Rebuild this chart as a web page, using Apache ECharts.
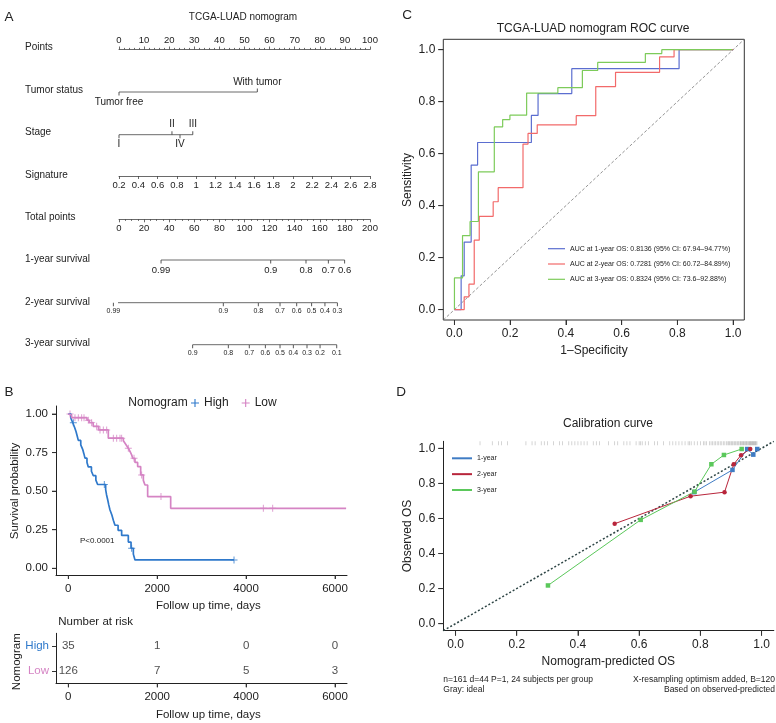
<!DOCTYPE html>
<html><head><meta charset="utf-8">
<script src="https://cdn.jsdelivr.net/npm/echarts@6/dist/echarts.min.js"></script>
<style>html,body{margin:0;padding:0;background:#fff}#c{width:776px;height:723px}</style>
</head><body><div id="c"></div>
<script>
// ================= DATA =================
// Panel A: nomogram
const nomoTitle = 'TCGA-LUAD nomogram';
const nomoRowLabels = ['Points','Tumor status','Stage','Signature','Total points','1-year survival','2-year survival','3-year survival'];
const pointsRange = [0, 100, 10];
const signatureRange = [0.2, 2.8, 0.2];
const totalPointsRange = [0, 200, 20];
const tumorStatusLabels = ['Tumor free','With tumor'];
const tumorStatusPoints = [0, 55.1];
const stageLabels = ['I','II','IV','III'];
const stagePoints = [0, 21.1, 24.3, 29.4];
const surv1Labels = ['0.99','0.9','0.8','0.7','0.6'];
const surv1Total = [33.5, 120.9, 149.0, 166.8, 179.8];
const surv2Labels = ['0.99','0.9','0.8','0.7','0.6','0.5','0.4','0.3'];
const surv2Total = [-4.5, 83.1, 111.0, 128.3, 141.6, 153.5, 164.1, 174.0];
const surv3Labels = ['0.9','0.8','0.7','0.6','0.5','0.4','0.3','0.2','0.1'];
const surv3Total = [58.7, 87.1, 103.8, 116.6, 128.3, 138.9, 149.8, 160.2, 173.5];

// Panel B: Kaplan-Meier
const kmGroups = ['High','Low'];
const highT = [0,60,100,140,173,200,225,280,323,350,375,420,450,520,563,620,660,840,860,886,910,938,980,1013,1050,1120,1200,1350,1411,1463,1500,3728];
const highS = [1.0,0.971,0.943,0.914,0.886,0.857,0.829,0.80,0.771,0.743,0.714,0.686,0.657,0.629,0.60,0.571,0.543,0.51,0.477,0.444,0.411,0.378,0.345,0.312,0.279,0.246,0.213,0.17,0.13,0.092,0.054,0.054];
const highCensor = [113, 810, 1425, 3728];
const lowT = [0,40,75,420,470,560,680,900,1238,1276,1313,1350,1388,1425,1450,1500,1560,1628,1688,1725,1785,2303,6250];
const lowS = [1.0,0.992,0.976,0.96,0.944,0.92,0.897,0.843,0.826,0.81,0.794,0.778,0.757,0.735,0.713,0.686,0.659,0.605,0.57,0.54,0.465,0.389,0.389];
const lowCensor = [38,150,225,300,353,450,525,638,713,788,863,1013,1088,1163,1200,1350,1478,1650,2085,4388,4598];
const kmXTickValues = [0, 2000, 4000, 6000];
const kmYTickValues = [0, 0.25, 0.5, 0.75, 1];
const kmXRange = [-277, 6270];
const kmYRange = [-0.0434, 1.0518];
const riskTimes = [0, 2000, 4000, 6000];
const riskHigh = [35, 1, 0, 0];
const riskLow = [126, 7, 5, 3];
const pValueText = 'P<0.0001';

// Panel C: ROC
const rocNames = ['AUC at 1-year OS: 0.8136 (95% CI: 67.94\u201394.77%)','AUC at 2-year OS: 0.7281 (95% CI: 60.72\u201384.89%)','AUC at 3-year OS: 0.8324 (95% CI: 73.6\u201392.88%)'];
const roc1Fpr = [0,0.024,0.035,0.06,0.083,0.276,0.30,0.421,0.806,1.0];
const roc1Tpr = [0,0.13,0.26,0.556,0.643,0.747,0.831,0.927,1.0,1.0];
const roc2Fpr = [0,0.035,0.052,0.071,0.089,0.139,0.157,0.246,0.264,0.297,0.437,0.507,0.578,0.736,0.788,1.0];
const roc2Tpr = [0,0.049,0.098,0.267,0.359,0.415,0.469,0.637,0.678,0.711,0.746,0.858,0.913,0.972,1.0,1.0];
const roc3Fpr = [0,0,0.029,0.056,0.086,0.143,0.173,0.199,0.259,0.371,0.459,0.514,0.685,0.744,0.997];
const roc3Tpr = [0,0.122,0.285,0.339,0.53,0.703,0.731,0.748,0.833,0.854,0.92,0.951,0.985,1.0,1.0];
const unitTickValues = [0, 0.2, 0.4, 0.6, 0.8, 1.0];
const unitRange = [-0.04, 1.04];

// Panel D: calibration
const calNames = ['1-year','2-year','3-year'];
const cal1Pred = [0.78,0.905,0.953,0.973,0.986];
const cal1Obs  = [0.75,0.877,0.996,0.964,0.996];
const cal2Pred = [0.52,0.768,0.879,0.909,0.933,0.963];
const cal2Obs  = [0.57,0.727,0.75,0.909,0.961,0.996];
const cal3Pred = [0.302,0.605,0.781,0.836,0.877,0.935];
const cal3Obs  = [0.218,0.592,0.753,0.909,0.962,0.996];
const rugPred = [0.08,0.12,0.14,0.15,0.17,0.23,0.25,0.26,0.28,0.29,0.30,0.32,0.34,0.35,0.37,0.38,0.39,0.40,0.41,0.42,0.43,0.45,0.46,0.47,0.50,0.52,0.53,0.55,0.56,0.57,0.59,0.60,0.605,0.61,0.62,0.63,0.65,0.66,0.68,0.70,0.71,0.72,0.73,0.74,0.75,0.76,0.765,0.77,0.78,0.79,0.80,0.81,0.815,0.82,0.83,0.835,0.84,0.845,0.85,0.855,0.86,0.865,0.87,0.875,0.88,0.885,0.89,0.893,0.896,0.90,0.903,0.906,0.91,0.913,0.916,0.92,0.923,0.926,0.93,0.932,0.935,0.938,0.94,0.942,0.945,0.948,0.95,0.952,0.955,0.957,0.96,0.962,0.964,0.966,0.968,0.97,0.972,0.974,0.976,0.978,0.98,0.982,0.985];
const calFootLeft = ['n=161 d=44 P=1, 24 subjects per group','Gray: ideal'];
const calFootRight = ['X-resampling optimism added, B=120','Based on observed-predicted'];

// ================= BUILD =================
const FONT = '"Liberation Sans", Arial, Helvetica, sans-serif';
const TXT = '#222';
const CLEAR = 'rgba(0,0,0,0)';
const grid = [], xAxis = [], yAxis = [], series = [], graphic = [], legend = [];
function addPanel(g, xa, ya) {
  grid.push(g); const gi = grid.length - 1;
  xa.gridIndex = gi; ya.gridIndex = gi;
  xa.axisLine = Object.assign({onZero:false}, xa.axisLine || {});
  ya.axisLine = Object.assign({onZero:false}, ya.axisLine || {});
  xAxis.push(xa); yAxis.push(ya); return gi;
}
function txt(text, x, y, size, opts) {
  opts = opts || {};
  graphic.push({type:'text', x, y, rotation: opts.rot || 0, silent:true,
    style:{text, fontSize:size, fontFamily:FONT, fill: opts.color || TXT,
      align: opts.align || 'center', verticalAlign:'middle'}});
}
const zip = (a, b) => a.map((v, i) => [v, b[i]]);
function stepAt(T, S, t) { let v = S[0]; for (let i = 0; i < T.length; i++) { if (T[i] <= t) v = S[i]; } return v; }
const plain = v => String(v);
function customAxis(pos, range, ticks, fmt, lineShow, tickLen, fontSize, margin) {
  return {type:'value', position:pos, min:range[0], max:range[1],
    axisLine:{show:lineShow, lineStyle:{color:'#222', width:1}},
    axisTick:{show:true, length:tickLen, customValues:ticks, lineStyle:{color:'#333', width:1}},
    minorTick:{show:false},
    axisLabel:{show:true, customValues:ticks, fontSize, color:TXT, margin, formatter:fmt},
    splitLine:{show:false}};
}
// outward tick marks drawn as thin rect symbols at the axis values (through the grid's scales)
function tickMarks(gi, dim, values, len, edge) {
  series.push({type:'scatter', xAxisIndex:gi, yAxisIndex:gi, clip:false, silent:true, z:10,
    symbol:'rect', symbolSize: dim === 'x' ? [1, len] : [len, 1],
    symbolOffset: dim === 'x' ? [0, len / 2] : [-len / 2, 0],
    itemStyle:{color:'#333'},
    data: values.map(v => dim === 'x' ? [v, edge] : [edge, v])});
}

// ---------- Panel A ----------
const NL = 119, NW = 251;
const rowY = [49.5, 92, 134.7, 176, 219.3, 260, 302.7, 344.7];
const rowLabelY = [47.7, 90, 132.7, 175, 217, 259.7, 302, 343.3];
const nomoLine = {color:'#444', width:0.8};
function nomoAxisRow(y, range, pos, fmt, minorSplit, fontSize) {
  addPanel({left:NL, width:NW, top: pos === 'top' ? y : y - 1, height:1},
    {type:'value', position:pos, min:range[0], max:range[1], interval:range[2],
     axisLine:{show:true, lineStyle:nomoLine}, axisTick:{show:true, length:3, lineStyle:nomoLine},
     minorTick:{show: !!minorSplit, splitNumber: minorSplit || 5, length:1.6, lineStyle:nomoLine},
     splitLine:{show:false}, minorSplitLine:{show:false},
     axisLabel:{fontSize, color:TXT, margin:4, formatter: fmt}},
    {type:'value', show:false, min:-1, max:1});
}
function nomoSeriesRow(y, min, max, xs, labels, positions, fontSize) {
  const gi = addPanel({left:NL, width:NW, top:y - 1, height:2},
    {type:'value', show:false, min, max}, {type:'value', show:false, min:-1, max:1});
  series.push({type:'line', xAxisIndex:gi, yAxisIndex:gi, clip:false, silent:true,
    symbol:'rect', symbolSize:[0.9, 3.5], showAllSymbol:true,
    itemStyle:{color:'#444'}, lineStyle:{color:'#444', width:0.8},
    label:{show:true, fontSize, color:TXT, distance:1.5, fontFamily:FONT, formatter: p => labels[p.dataIndex]},
    data: xs.map((x, k) => ({value:[x, 0], symbolOffset:[0, positions[k] === 'top' ? -1.75 : 1.75],
      label:{position: positions[k]}}))
  });
}
nomoAxisRow(rowY[0], pointsRange, 'top', plain, 5, 9.5);
nomoSeriesRow(rowY[1], 0, 100, tumorStatusPoints, tumorStatusLabels, ['bottom','top'], 10);
nomoSeriesRow(rowY[2], 0, 100, stagePoints, stageLabels, ['bottom','top','bottom','top'], 10);
nomoAxisRow(rowY[3], signatureRange, 'bottom', v => String(+(+v).toFixed(1)), 0, 9.5);
nomoAxisRow(rowY[4], totalPointsRange, 'bottom', plain, 4, 9.5);
nomoSeriesRow(rowY[5], 0, 200, surv1Total, surv1Labels, surv1Labels.map(() => 'bottom'), 9.5);
nomoSeriesRow(rowY[6], 0, 200, surv2Total, surv2Labels, surv2Labels.map(() => 'bottom'), 7);
nomoSeriesRow(rowY[7], 0, 200, surv3Total, surv3Labels, surv3Labels.map(() => 'bottom'), 7);
nomoRowLabels.forEach((l, i) => txt(l, 25, rowLabelY[i], 10, {align:'left'}));
txt(nomoTitle, 243, 17, 10);
txt('A', 9, 17, 13.5);

// ---------- Panel B ----------
const HIGH_C = '#2F79CB', LOW_C = '#D584C4';
const kmG = addPanel({left:56, top:406, width:291, height:169},
  customAxis('bottom', kmXRange, kmXTickValues, plain, true, 4, 11.5, 8),
  customAxis('left', kmYRange, kmYTickValues, v => (+v).toFixed(2), true, 4, 11.5, 8));
tickMarks(kmG, 'x', kmXTickValues, 4, kmYRange[0]);
tickMarks(kmG, 'y', kmYTickValues, 4, kmXRange[0]);
const plusPath = 'path://M-0.14,-1L0.14,-1L0.14,-0.14L1,-0.14L1,0.14L0.14,0.14L0.14,1L-0.14,1L-0.14,0.14L-1,0.14L-1,-0.14L-0.14,-0.14Z';
series.push({name:'High', type:'line', step:'end', xAxisIndex:kmG, yAxisIndex:kmG, clip:false, symbol:'none',
  lineStyle:{color:HIGH_C, width:1.7}, itemStyle:{color:HIGH_C}, data: zip(highT, highS)});
series.push({name:'Low', type:'line', step:'end', xAxisIndex:kmG, yAxisIndex:kmG, clip:false, symbol:'none',
  lineStyle:{color:LOW_C, width:1.7}, itemStyle:{color:LOW_C}, data: zip(lowT, lowS)});
series.push({name:'High', type:'scatter', xAxisIndex:kmG, yAxisIndex:kmG, clip:false, symbol:plusPath, symbolSize:7,
  itemStyle:{color:HIGH_C}, data: highCensor.map(t => [t, stepAt(highT, highS, t)])});
series.push({name:'Low', type:'scatter', xAxisIndex:kmG, yAxisIndex:kmG, clip:false, symbol:plusPath, symbolSize:7,
  itemStyle:{color:LOW_C}, data: lowCensor.map(t => [t, stepAt(lowT, lowS, t)])});
legend.push({data:kmGroups, left:191, top:396, padding:0, orient:'horizontal', icon:plusPath,
  itemWidth:8, itemHeight:8, itemGap:13, textStyle:{fontSize:12, color:TXT, fontFamily:FONT, lineHeight:14}});
txt('Nomogram', 158, 403, 12);
txt('Survival probability', 15, 491, 11.5, {rot:Math.PI/2});
txt('Follow up time, days', 208.3, 606, 11.5);
txt(pValueText, 80, 541, 8, {align:'left'});
txt('B', 9, 392, 13.5);
// risk table
const rtG = addPanel({left:56, top:633.3, width:291, height:50},
  customAxis('bottom', kmXRange, kmXTickValues, plain, true, 4, 11.5, 8),
  {type:'category', position:'left', data:['Low','High'], axisLine:{show:true, lineStyle:{color:'#222', width:1}},
   axisTick:{show:true, alignWithLabel:true, length:4, lineStyle:{color:'#333', width:1}},
   axisLabel:{fontSize:11.5, margin:7, color: (v) => v === 'High' ? HIGH_C : LOW_C}});
// helper strip sharing the risk table's x scale, for its x tick marks
const rtTickG = addPanel({left:56, top:683.3, width:291, height:1},
  {type:'value', show:false, min:kmXRange[0], max:kmXRange[1]}, {type:'value', show:false, min:0, max:1});
tickMarks(rtTickG, 'x', kmXTickValues, 4, 1);
[['High', riskHigh], ['Low', riskLow]].forEach(([g, arr]) => {
  series.push({type:'scatter', xAxisIndex:rtG, yAxisIndex:rtG, clip:false, symbolSize:1, silent:true,
    itemStyle:{color:CLEAR},
    label:{show:true, position:'inside', fontSize:11.5, color:TXT, fontFamily:FONT, formatter: p => String(arr[p.dataIndex])},
    data: riskTimes.map(t => [t, g])});
});
txt('Number at risk', 58.3, 621.7, 11.5, {align:'left'});
txt('Nomogram', 17, 661.7, 11.5, {rot:Math.PI/2});
txt('Follow up time, days', 208.3, 715, 11.5);

// ---------- Panel C ----------
const ROC_C = ['#5B6ED0', '#F26A6A', '#7DCB5A'];
const f1 = v => (+v).toFixed(1);
const rocG = addPanel({left:443.3, top:39.3, width:301, height:280.7, show:true, borderColor:'#333', borderWidth:1},
  customAxis('bottom', unitRange, unitTickValues, f1, false, 5, 12, 8),
  customAxis('left', unitRange, unitTickValues, f1, false, 5, 12, 8));
tickMarks(rocG, 'x', unitTickValues, 5, unitRange[0]);
tickMarks(rocG, 'y', unitTickValues, 5, unitRange[0]);
series.push({type:'line', xAxisIndex:rocG, yAxisIndex:rocG, clip:true, symbol:'none', silent:true,
  lineStyle:{color:'#777', width:0.8, type:[3,2]}, data:[[-0.04,-0.04],[1.04,1.04]]});
[[roc1Fpr, roc1Tpr], [roc2Fpr, roc2Tpr], [roc3Fpr, roc3Tpr]].forEach(([f, t], i) => {
  series.push({name:rocNames[i], type:'line', step:'end', xAxisIndex:rocG, yAxisIndex:rocG, clip:false, symbol:'none',
    lineStyle:{color:ROC_C[i], width:1.2}, itemStyle:{color:ROC_C[i]}, data: zip(f, t)});
});
legend.push({data:rocNames, left:548, top:244.7, padding:0, orient:'vertical', icon:'rect',
  itemWidth:17, itemHeight:1.2, itemGap:7.3, textStyle:{fontSize:7, color:TXT, fontFamily:FONT, lineHeight:8}});
txt('TCGA-LUAD nomogram ROC curve', 593, 29, 12);
txt('Sensitivity', 407.5, 180, 12, {rot:Math.PI/2});
txt('1\u2013Specificity', 594, 351, 12);
txt('C', 407, 15, 13.5);

// ---------- Panel D ----------
const CAL_C = ['#3F7CC4', '#B8253B', '#5BC85B'];
const calG = addPanel({left:443.3, top:441.3, width:330.5, height:189.4},
  customAxis('bottom', unitRange, unitTickValues, f1, true, 5, 12, 8),
  customAxis('left', unitRange, unitTickValues, f1, true, 5, 12, 8));
tickMarks(calG, 'x', unitTickValues, 5, unitRange[0]);
tickMarks(calG, 'y', unitTickValues, 5, unitRange[0]);
series.push({type:'scatter', xAxisIndex:calG, yAxisIndex:calG, clip:false, silent:true, symbol:'rect', symbolSize:[0.7, 4],
  itemStyle:{color:'rgba(90,90,90,0.45)'}, data: rugPred.map(p => [p, 1.029])});
series.push({type:'line', xAxisIndex:calG, yAxisIndex:calG, clip:true, symbol:'none', silent:true,
  lineStyle:{color:'#2E4545', width:1.5, type:[2,2]}, data:[[-0.04,-0.04],[1.04,1.04]]});
[[cal1Pred, cal1Obs, 'rect'], [cal2Pred, cal2Obs, 'circle'], [cal3Pred, cal3Obs, 'rect']].forEach(([p, o, sym], i) => {
  series.push({name:calNames[i], type:'line', xAxisIndex:calG, yAxisIndex:calG, clip:false,
    symbol:sym, symbolSize:4.5, showAllSymbol:true,
    lineStyle:{color:CAL_C[i], width:1}, itemStyle:{color:CAL_C[i]}, data: zip(p, o)});
});
legend.push({data:calNames, left:452, top:454.3, padding:0, orient:'vertical', icon:'rect',
  itemWidth:20, itemHeight:2, itemGap:7.85, textStyle:{fontSize:7, color:TXT, fontFamily:FONT, lineHeight:8}});
txt('Calibration curve', 608, 423.3, 12);
txt('Observed OS', 408, 536, 12, {rot:Math.PI/2});
txt('Nomogram-predicted OS', 608.3, 661.7, 12);
txt(calFootLeft[0], 443.3, 680, 8.5, {align:'left'});
txt(calFootLeft[1], 443.3, 690, 8.5, {align:'left'});
txt(calFootRight[0], 775, 680, 8.5, {align:'right'});
txt(calFootRight[1], 775, 690, 8.5, {align:'right'});
txt('D', 401, 392, 13.5);

const chart = echarts.init(document.getElementById('c'), null, {renderer:'canvas'});
chart.setOption({
  animation:false,
  backgroundColor:'#fff',
  textStyle:{fontFamily:FONT},
  grid, xAxis, yAxis, series, legend, graphic
});
</script></body></html>
